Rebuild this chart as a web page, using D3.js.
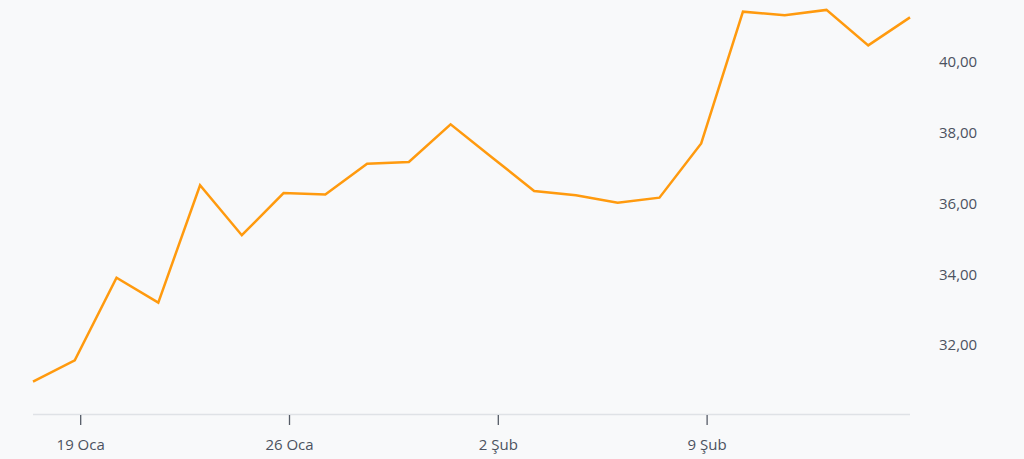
<!DOCTYPE html>
<html>
<head>
<meta charset="utf-8">
<script src="https://cdn.jsdelivr.net/npm/d3@7"></script>
<style>
  html, body { margin: 0; padding: 0; background: #f8f9fa; }
  svg { display: block; }
</style>
</head>
<body>
<svg id="chart" width="1024" height="459"></svg>
<script>
// Trading days (weekdays only), 16 Jan – 16 Feb
const dates = ["2026-01-16","2026-01-19","2026-01-20","2026-01-21","2026-01-22","2026-01-23",
  "2026-01-26","2026-01-27","2026-01-28","2026-01-29","2026-01-30",
  "2026-02-02","2026-02-03","2026-02-04","2026-02-05","2026-02-06",
  "2026-02-09","2026-02-10","2026-02-11","2026-02-12","2026-02-13","2026-02-16"];
const values = [30.97, 31.57, 33.90, 33.20, 36.51, 35.10,
  36.29, 36.25, 37.12, 37.17, 38.23,
  37.29, 36.35, 36.23, 36.02, 36.16,
  37.69, 41.41, 41.31, 41.46, 40.46, 41.25];
const xTickDates = ["2026-01-19","2026-01-26","2026-02-02","2026-02-09"];
const xTickLabels = ["19 Oca","26 Oca","2 Şub","9 Şub"];
const yTicks = [32, 34, 36, 38, 40];
const yTickLabels = ["32,00","34,00","36,00","38,00","40,00"];

const svg = d3.select("#chart");
const plotLeft = 33, plotRight = 910, plotTop = 0, plotBottom = 414.5;

const x = d3.scaleLinear().domain([0, dates.length - 1]).range([plotLeft, plotRight]);
const y = d3.scaleLinear().domain([30.04, 41.74]).range([plotBottom, plotTop]);

// ticks sit slightly after the data point of the Monday
const tickOffset = 0.13;
const tickIdx = xTickDates.map(d => dates.indexOf(d) + tickOffset);

// x axis line
svg.append("line")
  .attr("x1", plotLeft).attr("x2", plotRight)
  .attr("y1", plotBottom).attr("y2", plotBottom)
  .attr("stroke", "#dfe2e6").attr("stroke-width", 1.5);

const xAxis = d3.axisBottom(x)
  .tickValues(tickIdx)
  .tickFormat((d, i) => xTickLabels[i])
  .tickSize(10).tickPadding(14);
const gx = svg.append("g").attr("transform", `translate(0,${plotBottom + 0.5})`).call(xAxis);
gx.select(".domain").remove();
gx.selectAll(".tick line").attr("stroke", "#555b66").attr("stroke-width", 1.3);
gx.selectAll(".tick text")
  .attr("fill", "#4b5260")
  .style("font-family", "'Open Sans', sans-serif")
  .style("font-size", "15px");

const yAxis = d3.axisRight(y)
  .tickValues(yTicks)
  .tickFormat((d, i) => yTickLabels[i])
  .tickSize(0).tickPadding(0);
const gy = svg.append("g").attr("transform", `translate(939,0)`).call(yAxis);
gy.select(".domain").remove();
gy.selectAll(".tick line").remove();
gy.selectAll(".tick text")
  .attr("fill", "#4b5260")
  .style("font-family", "'Open Sans', sans-serif")
  .style("font-size", "15px");

const line = d3.line()
  .x((d, i) => x(i))
  .y(d => y(d));

svg.append("path")
  .datum(values)
  .attr("d", line)
  .attr("fill", "none")
  .attr("stroke", "#ff9a0e")
  .attr("stroke-width", 2.5)
  .attr("stroke-linejoin", "miter");
</script>
</body>
</html>
